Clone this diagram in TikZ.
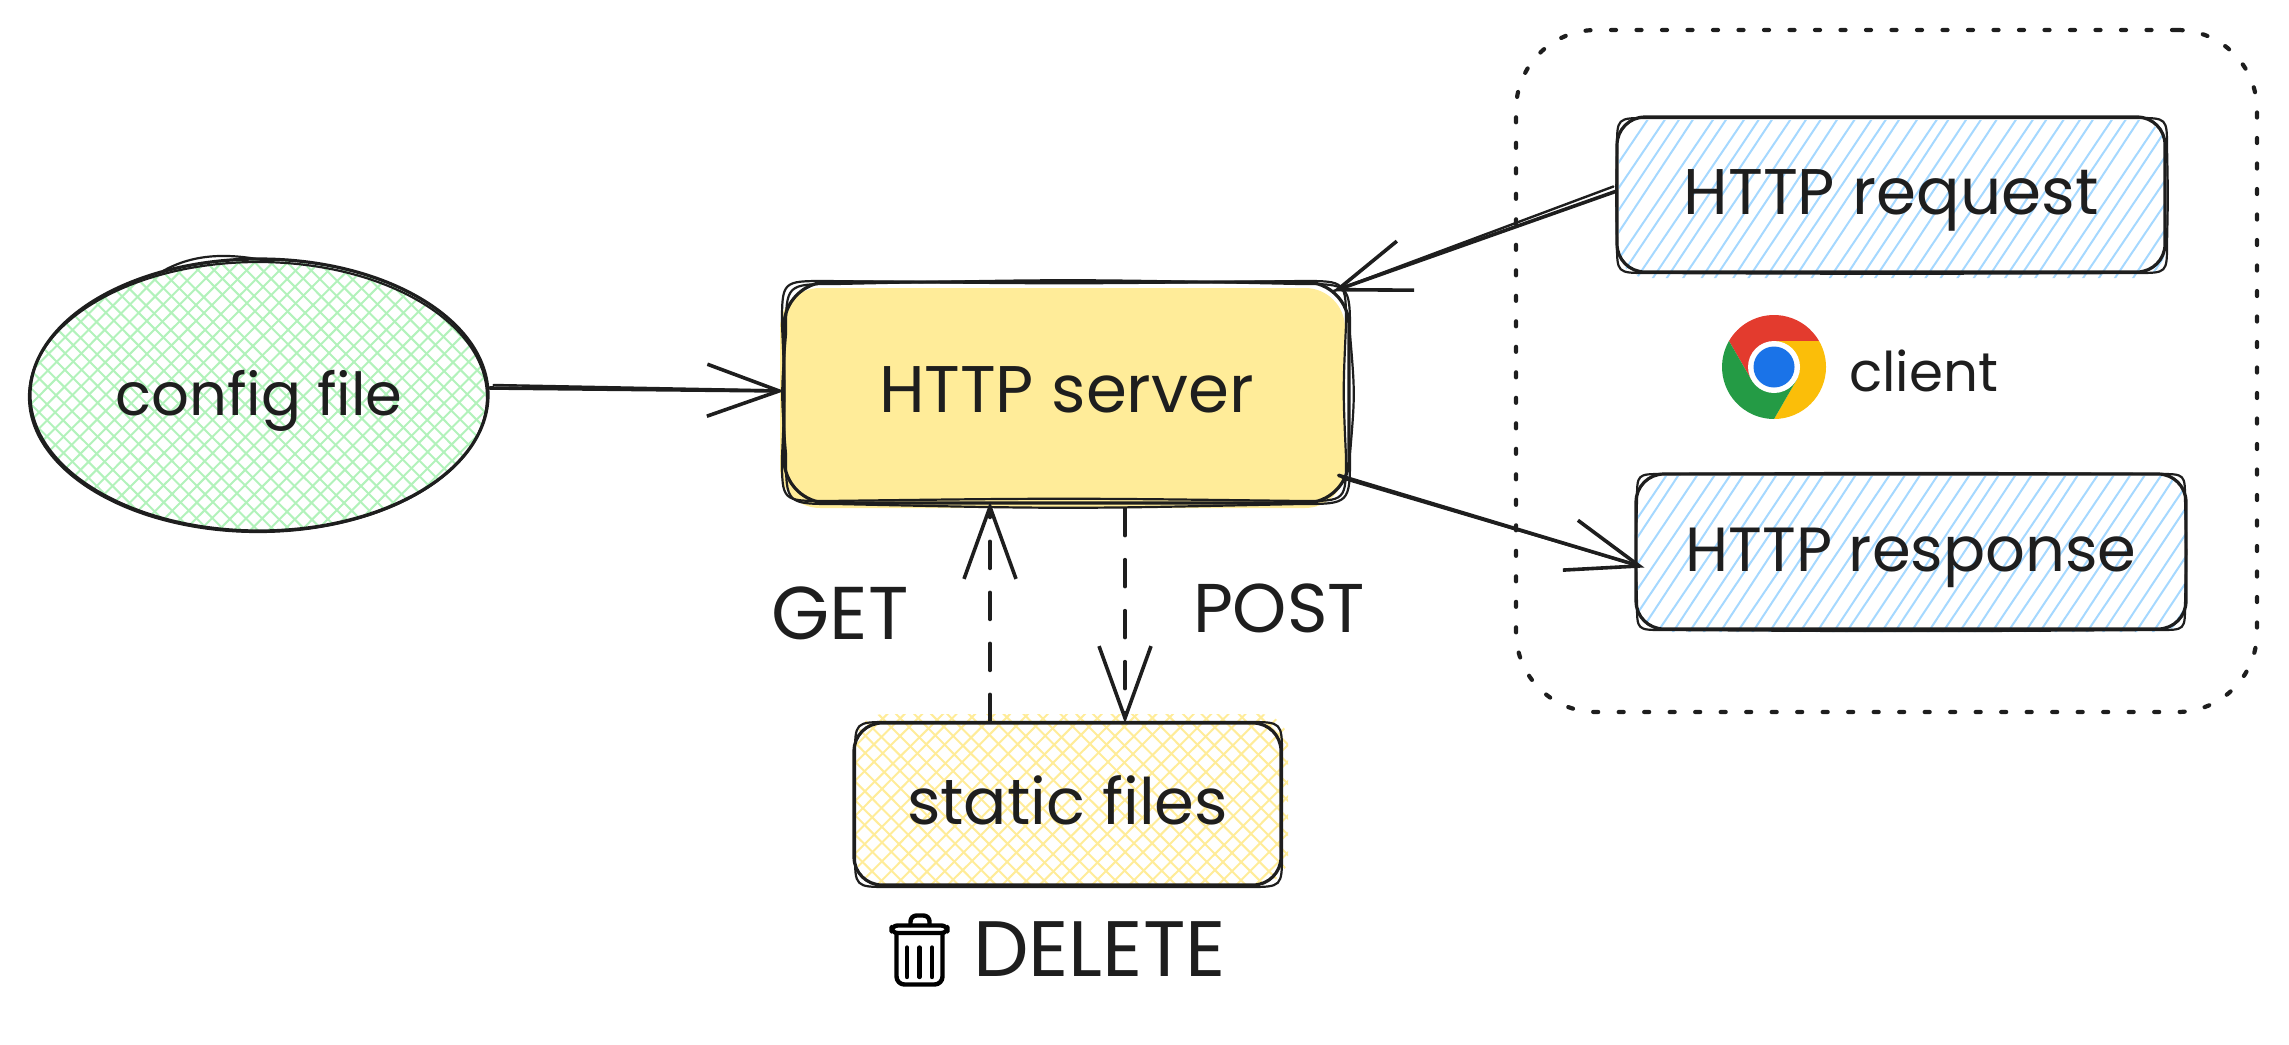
\documentclass[tikz,border=0pt]{standalone}
\usepackage{fontspec}
\setmainfont{Poppins}
\usetikzlibrary{arrows.meta,calc,shapes.geometric}
\definecolor{ink}{HTML}{1E1E1E}
\definecolor{hblue}{HTML}{A5D8FF}
\definecolor{hgreen}{HTML}{B2F2BB}
\definecolor{hyellow}{HTML}{FFEC99}
\definecolor{cred}{HTML}{E33B2E}
\definecolor{cyel}{HTML}{FBBE09}
\definecolor{cgrn}{HTML}{249B45}
\definecolor{cblu}{HTML}{1A73E8}
\tikzset{
  sk/.style={draw=ink,line width=1.1pt,line cap=round},
  boxnode/.style={draw=ink,line width=1.6pt,rounded corners=14pt,inner sep=0pt,text=ink,text height=20pt,text depth=0pt,align=center},
  labelnode/.style={anchor=base,inner sep=0pt,text=ink},
  conn/.style={draw=ink,line width=1.8pt,line cap=round,-{Straight Barb[length=36pt,width=26pt]}},
  connb/.style={draw=ink,line width=1.2pt,line cap=round},
  dashconn/.style={conn,dash pattern=on 13.5pt off 12pt},
  groupnode/.style={draw=ink,line width=2.1pt,line cap=round,rounded corners=40pt,dash pattern=on 2.5pt off 10.25pt,inner sep=0pt}
}
\newcommand{\tw}[2]{\resizebox{#1pt}{!}{\fontsize{28pt}{32pt}\selectfont #2}}
% second, wobbly pen stroke round a box
\newcommand{\wob}[6]{\draw[sk] (#1+#5,#2) .. controls ({(#1+#3)/2},#2-#6) .. (#3-#5,#2)
  .. controls (#3,#2) .. (#3,#2+#5) .. controls (#3+#6,{(#2+#4)/2}) .. (#3,#4-#5)
  .. controls (#3,#4) .. (#3-#5,#4) .. controls ({(#1+#3)/2},#4+#6) .. (#1+#5,#4)
  .. controls (#1,#4) .. (#1,#4-#5) .. controls (#1-#6,{(#2+#4)/2}) .. (#1,#2+#5)
  .. controls (#1,#2) .. cycle;}
% hachure lines: colour, x0, x1, y0, y1, spacing, run
\newcommand{\hatchlines}[7]{%
  \pgfmathtruncatemacro\hN{(#3-#2+abs(#7))/#6}%
  \foreach \k in {0,...,\hN}{%
    \pgfmathsetmacro\xa{#2-max(#7,0)+\k*#6+rand*1.6}%
    \pgfmathsetmacro\xb{\xa+#7+rand*2}%
    \draw[color=#1,line width=1pt] (\xa,#5) -- (\xb,#4);
  }}
\begin{document}
\begin{tikzpicture}[x=0.5pt,y=-0.5pt]
\useasboundingbox (0,0) rectangle (2289,1044);
\pgfmathsetseed{7}
% fills
\begin{scope}
  \clip (259,396) ellipse [x radius=228,y radius=136];
  \hatchlines{hgreen}{28}{490}{258}{532}{16.5}{274}
  \hatchlines{hgreen}{28}{490}{258}{532}{16.5}{-274}
\end{scope}
\begin{scope}
  \clip[rounded corners=14pt] (1619,120) rectangle (2165,278);
  \hatchlines{hblue}{1617}{2165}{115}{280}{16}{110}
\end{scope}
\begin{scope}
  \clip[rounded corners=14pt] (1638,476) rectangle (2186,632);
  \hatchlines{hblue}{1636}{2186}{470}{635}{16}{110}
\end{scope}
\begin{scope}
  \clip[rounded corners=14pt] (856,714) rectangle (1288,884);
  \hatchlines{hyellow}{854}{1290}{710}{888}{18}{178}
  \hatchlines{hyellow}{854}{1290}{710}{888}{18}{-178}
\end{scope}
\fill[hyellow,rounded corners=20pt] (780,288) rectangle (1345,508);
% container
\node[groupnode,minimum width=370.5pt,minimum height=341pt] (group) at (1886.5,371) {};
% nodes
\node[boxnode,ellipse,rounded corners=0pt,minimum width=229pt,minimum height=136pt] (cfg) at (259,395) {\tw{143.5}{config file}};
\node[boxnode,rounded corners=22pt,minimum width=282.5pt,minimum height=110.5pt] (server) at (1066.5,392.5) {\tw{187.5}{HTTP server}};
\node[boxnode,minimum width=274pt,minimum height=77.5pt] (req) at (1891,194.5) {\tw{207.5}{HTTP request}};
\node[boxnode,minimum width=275pt,minimum height=77.5pt] (resp) at (1911,551.5) {\tw{225.5}{HTTP response}};
\node[boxnode,minimum width=213.5pt,minimum height=81pt] (static) at (1067.5,804) {\tw{160.5}{static files}};
% second pen strokes
\draw[sk] (258,397) ellipse [x radius=229,y radius=135];
\draw[sk] (163,271) .. controls (200,250) and (240,255) .. (272,262);
\wob{786}{284}{1350}{504}{50}{5}
\wob{782}{281}{1346}{501}{44}{-3}
\wob{1617}{118}{2167}{273}{30}{1}
\wob{1637}{474}{2185}{630}{26}{1.5}
\wob{855}{722}{1282}{887}{34}{0.5}
% labels
\node[labelnode] (get) at (840,639) {\tw{68.5}{GET}};
\node[labelnode] (post) at (1279,632) {\tw{86}{POST}};
\node[labelnode] (del) at (1099.5,976) {\tw{126.5}{DELETE}};
\node[labelnode] (client) at (1923.5,391) {\tw{74.5}{client}};
% connectors
\draw[conn] ($(cfg.east)+(0,-7)$) -- ($(server.west)+(2,-1.5)$);
\draw[connb] ($(cfg.east)+(4,-10)$) -- ($(server.west)+(-3,-2)$);
\draw[conn] ($(req.west)+(0,-3)$) -- ($(server.21)+(-18,8)$);
\draw[connb] ($(req.west)+(-2,-8)$) -- ($(server.21)+(-18,8)$);
\draw[conn] ($(server.-17)+(-12,-4)$) -- ($(resp.west)+(10,16)$);
\draw[connb] ($(server.-17)+(-8,-1)$) -- ($(resp.west)+(3,14)$);
\draw[dashconn] ($(static.north)+(-77.5,0)$) -- ($(server.south)+(-76.5,-3)$);
\draw[dashconn] ($(server.south)+(58.5,4)$) -- ($(static.north)+(57.5,2)$);
% chrome logo
\begin{scope}[shift={(1774,367)},x=0.5pt,y=0.5pt]
  \foreach \r/\c in {0/cred,-120/cyel,120/cgrn}{
    \fill[\c,rotate=\r] (30:52) arc (30:150:52) -- (210:26) -- (0,0) -- (90:26) -- cycle;
  }
  \fill[white] (0,0) circle (26);
  \fill[cblu] (0,0) circle (20.5);
\end{scope}
% trash icon
\begin{scope}[draw=black,line width=2.2pt,line cap=round,line join=round]
  \draw[rounded corners=3pt] (891.5,925.5) rectangle (947.5,933);
  \draw[rounded corners=3pt] (910.5,925) -- (910.5,915.5) -- (929.5,915.5) -- (929.5,925);
  \draw[rounded corners=4pt] (896.5,934) -- (896.5,984.5) -- (942.5,984.5) -- (942.5,934);
  \draw (907,947.5) -- (907,977);
  \draw (919.5,947.5) -- (919.5,977);
  \draw (932,947.5) -- (932,977);
\end{scope}
\end{tikzpicture}
\end{document}
